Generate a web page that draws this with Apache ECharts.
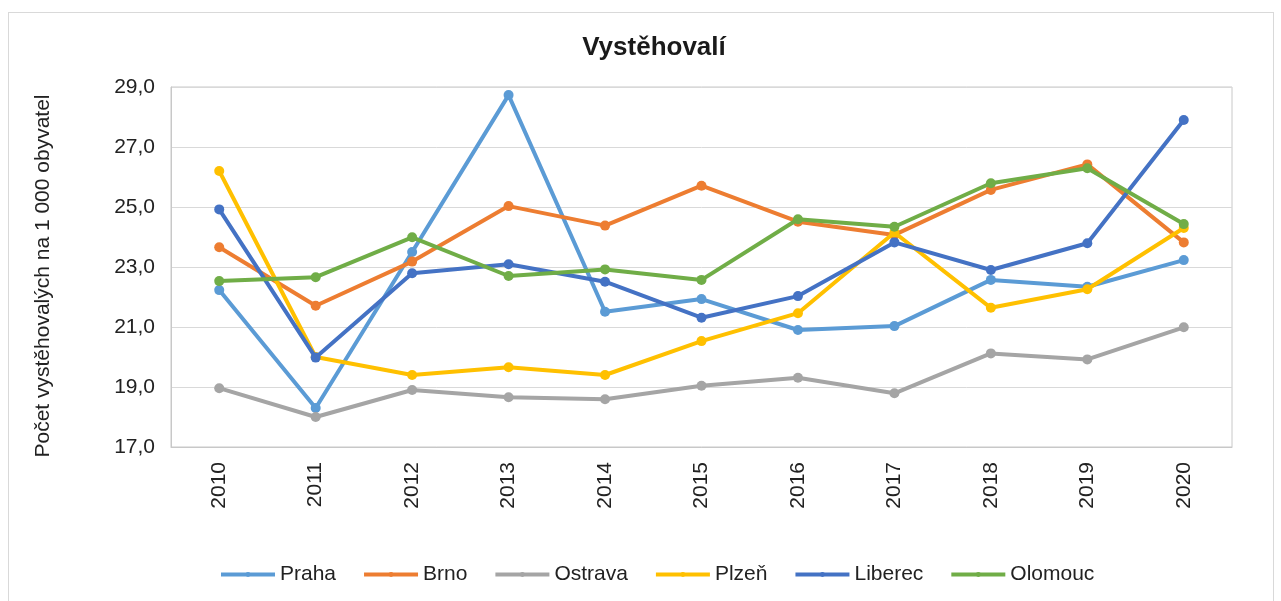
<!DOCTYPE html>
<html>
<head>
<meta charset="utf-8">
<script src="https://cdn.jsdelivr.net/npm/echarts@6/dist/echarts.min.js"></script>
<style>
  html, body { margin: 0; padding: 0; background: #fff; }
  #frame { position: absolute; left: 8px; top: 12px; width: 1266px; height: 600px; border: 1px solid #d9d9d9; box-sizing: border-box; }
  #chart { position: absolute; left: 0; top: 0; width: 1281px; height: 601px; }
</style>
</head>
<body>
<div id="frame"></div>
<div id="chart"></div>
<script>
const years = ['2010', '2011', '2012', '2013', '2014', '2015', '2016', '2017', '2018', '2019', '2020']

const praha = [22.23, 18.3, 23.5, 28.73, 21.51, 21.93, 20.9, 21.03, 22.57, 22.34, 23.23]
const brno = [23.66, 21.71, 23.18, 25.03, 24.38, 25.71, 24.51, 24.07, 25.57, 26.42, 23.82]
const ostrava = [18.96, 18.0, 18.9, 18.66, 18.59, 19.04, 19.31, 18.79, 20.12, 19.92, 20.99]
const plzen = [26.2, 20.0, 19.4, 19.66, 19.4, 20.53, 21.46, 24.15, 21.64, 22.26, 24.3]
const liberec = [24.92, 19.98, 22.79, 23.09, 22.51, 21.31, 22.03, 23.82, 22.9, 23.79, 27.9]
const olomouc = [22.53, 22.66, 23.99, 22.7, 22.92, 22.57, 24.59, 24.34, 25.79, 26.29, 24.43]

const names = ['Praha', 'Brno', 'Ostrava', 'Plzeň', 'Liberec', 'Olomouc']
const colors = ['#5B9BD5', '#ED7D31', '#A5A5A5', '#FFC000', '#4472C4', '#70AD47']
const values = [praha, brno, ostrava, plzen, liberec, olomouc]

const font = 'Arial, "Liberation Sans", sans-serif'

function getSeries() {
  let series = []
  names.forEach((name, i) => {
    series.push({
      name: name,
      type: 'line',
      data: values[i],
      symbol: 'circle',
      symbolSize: 10,
      lineStyle: {width: 4, color: colors[i]},
      itemStyle: {color: colors[i]},
      z: 2 + i
    })
  })
  return series
}

const chart = echarts.init(document.getElementById('chart'), null, {renderer: 'canvas'})
chart.setOption({
  animation: false,
  title: {
    text: 'Vystěhovalí',
    left: 649,
    textAlign: 'center',
    top: 30,
    textStyle: {fontFamily: font, fontSize: 26, fontWeight: 'bold', color: '#1a1a1a'}
  },
  legend: {
    data: names,
    left: 219,
    top: 564,
    padding: 0,
    itemWidth: 54,
    itemHeight: 6,
    itemGap: 26,
    lineStyle: {width: 4},
    textStyle: {fontFamily: font, fontSize: 21, color: '#222'}
  },
  grid: {
    left: 171,
    right: 49,
    top: 87,
    bottom: 154,
    show: true,
    borderColor: '#c8c8c8',
    borderWidth: 1
  },
  xAxis: {
    type: 'category',
    data: years,
    boundaryGap: true,
    axisLine: {lineStyle: {color: '#c8c8c8'}},
    axisTick: {show: false},
    axisLabel: {rotate: 90, margin: 15, fontFamily: font, fontSize: 21, color: '#222'}
  },
  yAxis: {
    type: 'value',
    min: 17,
    max: 29,
    interval: 2,
    name: 'Počet vystěhovalých na 1 000 obyvatel',
    nameLocation: 'middle',
    nameGap: 117,
    nameTextStyle: {fontFamily: font, fontSize: 21, color: '#222', padding: [0, 18, 0, 0]},
    axisLine: {show: true, lineStyle: {color: '#c8c8c8'}},
    axisTick: {show: false},
    splitLine: {lineStyle: {color: '#d9d9d9', width: 1}},
    axisLabel: {
      margin: 16,
      fontFamily: font,
      fontSize: 21,
      color: '#222',
      formatter: v => v.toFixed(1).replace('.', ',')
    }
  },
  series: getSeries()
})
</script>
</body>
</html>
